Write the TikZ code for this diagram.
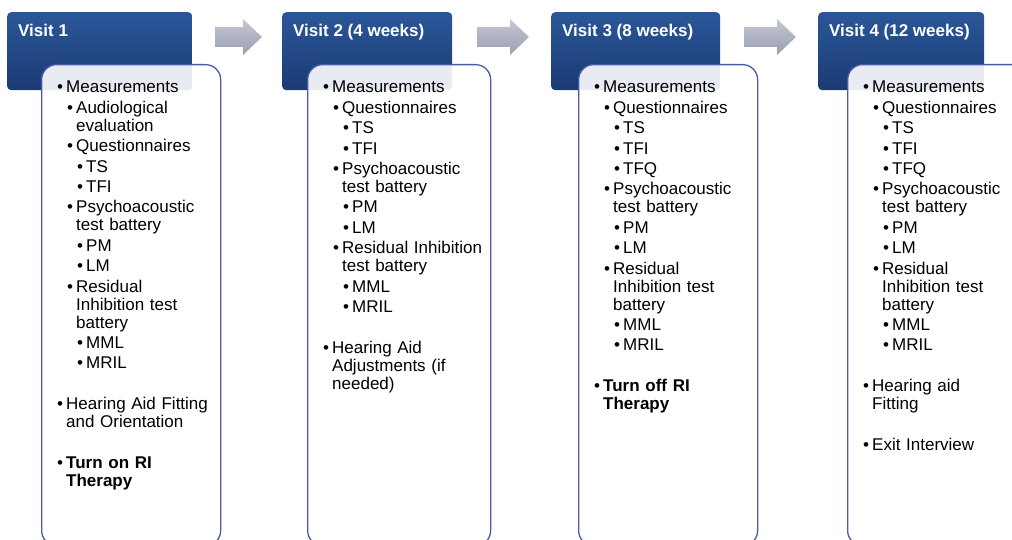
\documentclass[tikz,border=0pt]{standalone}
\usepackage{fontspec}
\setmainfont{Liberation Sans}
\usetikzlibrary{positioning}
\definecolor{visitblue}{HTML}{2B5799}
\definecolor{visitdark}{HTML}{1A3A73}
\definecolor{panelline}{HTML}{4A5BA5}
\definecolor{arrowlight}{HTML}{C4C7D3}
\definecolor{arrowdark}{HTML}{9A9EB0}
\tikzset{
  header/.style={anchor=north west, rounded corners=4pt, top color=visitblue,
    bottom color=visitdark, minimum height=78pt, inner sep=0pt},
  headtext/.style={anchor=base west, text=white, inner sep=0pt,
    font=\fontsize{17}{20}\selectfont\bfseries},
  panel/.style={anchor=north west, draw=panelline, line width=1.3pt, fill=white,
    fill opacity=0.9, rounded corners=15pt, minimum height=481pt, inner sep=0pt},
  steps/.style={anchor=base west, inner sep=0pt, text width=200pt, align=left,
    font=\fontsize{17}{18}\selectfont},
}
% one bullet line: indent, text
\newcommand\lvl[2]{\parskip=2.4pt\leftskip=#1pt\hangindent=9pt\hangafter=1%
  \makebox[9pt][l]{\textbullet}#2\par}
\newcommand\gap{\vspace{20.6pt}}

\begin{document}
\begin{tikzpicture}[x=1pt, y=-1pt]
    \useasboundingbox (0,0) rectangle (1012,540);
    \clip (0,0) rectangle (1012,540);
    % headers and panels
    \foreach \n/\hx/\hw/\bx/\bw/\t in {1/7/185/41/179/{Visit 1},
        2/282/170/307/183/{Visit 2 (4 weeks)},
        3/551/169/578/179/{Visit 3 (8 weeks)},
        4/818/166/847/190/{Visit 4 (12 weeks)}} {
      \node[header, minimum width=\hw pt] (h\n) at (\hx,12) {};
      \node[headtext] (t\n) at ([xshift=11pt, yshift=-25pt]h\n.north west) {\t};
      \node[panel, minimum width=\bw pt] (b\n) at (\bx,64) {};
    }
    % arrows between visits
    \foreach \x/\l in {215/47, 477/52, 744/52}
      \shade[top color=arrowlight, bottom color=arrowdark] (\x,27) -- ++(\l-19,0)
        -- ++(0,-8) -- ++(19,18) -- ++(-19,18) -- ++(0,-8) -- (\x,47) -- cycle;

    \node[steps] (s1) at ([xshift=16pt, yshift=-29pt]b1.north west) {%
      \lvl{0}{Measurements}
      \lvl{10}{Audiological\newline evaluation}
      \lvl{10}{Questionnaires}
      \lvl{20}{TS}
      \lvl{20}{TFI}
      \lvl{10}{Psychoacoustic\newline test battery}
      \lvl{20}{PM}
      \lvl{20}{LM}
      \lvl{10}{Residual\newline Inhibition test\newline battery}
      \lvl{20}{MML}
      \lvl{20}{MRIL}
      \gap
      \lvl{0}{Hearing Aid Fitting\newline and Orientation}
      \gap
      \lvl{0}{{\bfseries Turn on RI\newline Therapy}}};
    \node[steps] (s2) at ([xshift=16pt, yshift=-29pt]b2.north west) {%
      \lvl{0}{Measurements}
      \lvl{10}{Questionnaires}
      \lvl{20}{TS}
      \lvl{20}{TFI}
      \lvl{10}{Psychoacoustic\newline test battery}
      \lvl{20}{PM}
      \lvl{20}{LM}
      \lvl{10}{Residual Inhibition\newline test battery}
      \lvl{20}{MML}
      \lvl{20}{MRIL}
      \gap
      \lvl{0}{Hearing Aid\newline Adjustments (if\newline needed)}};
    \node[steps] (s3) at ([xshift=16pt, yshift=-29pt]b3.north west) {%
      \lvl{0}{Measurements}
      \lvl{10}{Questionnaires}
      \lvl{20}{TS}
      \lvl{20}{TFI}
      \lvl{20}{TFQ}
      \lvl{10}{Psychoacoustic\newline test battery}
      \lvl{20}{PM}
      \lvl{20}{LM}
      \lvl{10}{Residual\newline Inhibition test\newline battery}
      \lvl{20}{MML}
      \lvl{20}{MRIL}
      \gap
      \lvl{0}{{\bfseries Turn off RI\newline Therapy}}};
    \node[steps] (s4) at ([xshift=16pt, yshift=-29pt]b4.north west) {%
      \lvl{0}{Measurements}
      \lvl{10}{Questionnaires}
      \lvl{20}{TS}
      \lvl{20}{TFI}
      \lvl{20}{TFQ}
      \lvl{10}{Psychoacoustic\newline test battery}
      \lvl{20}{PM}
      \lvl{20}{LM}
      \lvl{10}{Residual\newline Inhibition test\newline battery}
      \lvl{20}{MML}
      \lvl{20}{MRIL}
      \gap
      \lvl{0}{Hearing aid\newline Fitting}
      \gap
      \lvl{0}{Exit Interview}};
\end{tikzpicture}
\end{document}
